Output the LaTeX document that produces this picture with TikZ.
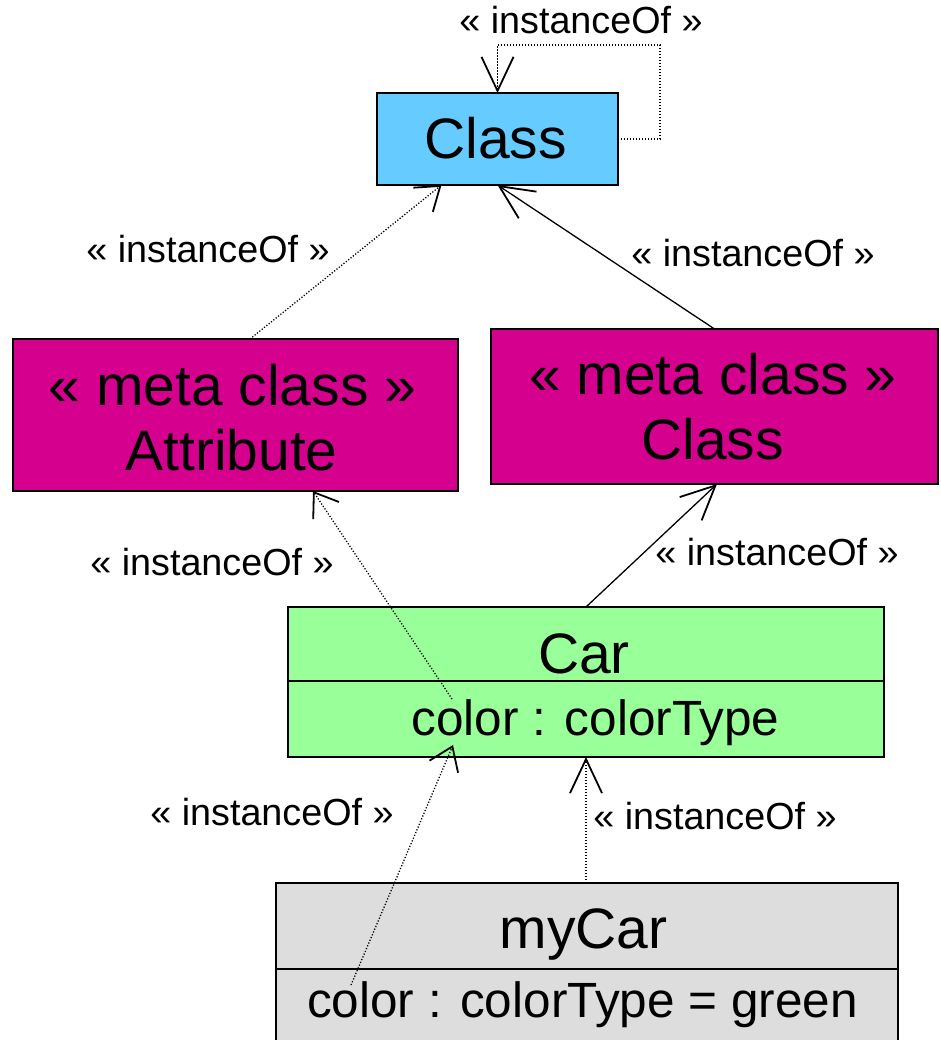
\documentclass[tikz,border=0pt]{standalone}
\usepackage{fontspec}
\setmainfont{Liberation Sans}
\usetikzlibrary{arrows.meta,calc}
\definecolor{clsblue}{HTML}{66CCFF}
\definecolor{metamag}{HTML}{D6008F}
\definecolor{cargreen}{HTML}{99FF99}
\definecolor{objgray}{HTML}{DDDDDD}
\tikzset{
  box/.style={draw=black, line width=2pt, inner sep=0pt, outer sep=0pt},
  nametext/.style={anchor=base, inner sep=0pt, font=\fontsize{57}{60}\selectfont},
  attrtext/.style={anchor=base, inner sep=0pt, font=\fontsize{49.5}{52}\selectfont},
  lbl/.style={anchor=base, inner sep=0pt, font=\fontsize{37.7}{40}\selectfont},
  bigtip/.style={-{Straight Barb[length=34pt,width=32pt,line width=1.8pt]}},
  smalltip/.style={-{Straight Barb[length=22pt,width=31pt,line width=1.8pt]}},
  solidline/.style={line width=1.3pt},
  dotline/.style={line width=1.3pt, dash pattern=on 1.2pt off 1.8pt},
}
\begin{document}
\begin{tikzpicture}[x=1pt,y=-1pt]
\clip (0,0) rectangle (941,1040);
\fill[white] (0,0) rectangle (941,1040);
% boxes
\node[box, fill=clsblue, minimum width=241pt, minimum height=92pt] (cls) at (497.5,139) {};
\node[box, fill=metamag, minimum width=445pt, minimum height=152pt] (attr) at (235.5,415) {};
\node[box, fill=metamag, minimum width=447pt, minimum height=155pt] (mcls) at (714.5,406.5) {};
\node[box, fill=cargreen, minimum width=596pt, minimum height=150pt] (car) at (586,682) {};
\node[box, fill=objgray, minimum width=622pt, minimum height=180pt] (mycar) at (587,973) {};
\draw[line width=2pt] ($(car.north west)+(0,74)$) -- ($(car.north east)+(0,74)$);
\draw[line width=2pt] ($(mycar.north west)+(0,86)$) -- ($(mycar.north east)+(0,86)$);
% texts
\node[nametext] (tcls) at (495.5,159) {Class};
\node[nametext] (tattr1) at (232.5,405) {« meta class »};
\node[nametext] (tattr2) at (231.5,470) {Attribute};
\node[nametext] (tmcls1) at (713,394) {« meta class »};
\node[nametext] (tmcls2) at (712.5,459) {Class};
\node[nametext] (tcar) at (584,673) {Car};
\node[attrtext] (tcarattr) at (595.5,735) {color : colorType};
\node[nametext] (tmycar) at (583.5,948) {myCar};
\node[attrtext] (tmycarattr) at (582.5,1017) {color : colorType = green};
% labels
\node[lbl] (l1) at (581,34) {« instanceOf »};
\node[lbl] (l2) at (208,263) {« instanceOf »};
\node[lbl] (l3) at (753,267) {« instanceOf »};
\node[lbl] (l4) at (212,575) {« instanceOf »};
\node[lbl] (l5) at (777,565) {« instanceOf »};
\node[lbl] (l6) at (272,825) {« instanceOf »};
\node[lbl] (l7) at (715,829) {« instanceOf »};
% connectors
\draw[dotline, line width=1.6pt, bigtip] (cls.east) -- ++(42,0) -- ++(0,-94) -| (cls.north);
\draw[dotline, smalltip] ($(attr.north)+(14.5,0)$) -- ($(cls.south)+(-56,0)$);
\draw[solidline, bigtip] (mcls.north) -- (cls.south);
\draw[dotline, smalltip] ($(car.center)+(-134,17)$) -- ($(attr.south)+(77.5,0)$);
\draw[solidline, bigtip] (car.north) -- ($(mcls.south)+(2.5,0)$);
\draw[dotline, smalltip] ($(mycar.north)+(-236,102)$) -- ($(car.south)+(-133,-12)$);
\draw[dotline, bigtip] (car.south |- mycar.north) -- (car.south);
\end{tikzpicture}
\end{document}
